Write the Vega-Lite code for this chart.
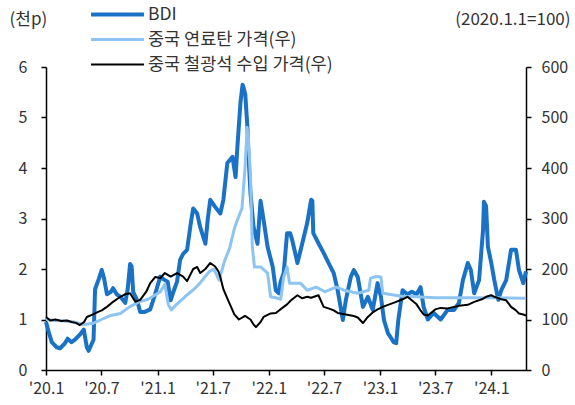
{
  "$schema": "https://vega.github.io/schema/vega-lite/v6.json",
  "width": 480,
  "height": 303,
  "autosize": {"type": "none"},
  "padding": {"left": 46, "top": 67, "right": 49, "bottom": 35},
  "background": "white",
  "data": {
    "format": {"parse": {"date": "date:'%Y-%m-%d'"}},
    "values": [
      {"date": "2020-01-01", "series": "BDI", "value": 0.95},
      {"date": "2020-01-10", "series": "BDI", "value": 0.75},
      {"date": "2020-01-20", "series": "BDI", "value": 0.55},
      {"date": "2020-02-05", "series": "BDI", "value": 0.45},
      {"date": "2020-02-16", "series": "BDI", "value": 0.43},
      {"date": "2020-03-02", "series": "BDI", "value": 0.52},
      {"date": "2020-03-12", "series": "BDI", "value": 0.62},
      {"date": "2020-03-25", "series": "BDI", "value": 0.55},
      {"date": "2020-04-05", "series": "BDI", "value": 0.6},
      {"date": "2020-04-21", "series": "BDI", "value": 0.7},
      {"date": "2020-05-04", "series": "BDI", "value": 0.8},
      {"date": "2020-05-14", "series": "BDI", "value": 0.45},
      {"date": "2020-05-20", "series": "BDI", "value": 0.38},
      {"date": "2020-06-05", "series": "BDI", "value": 0.6},
      {"date": "2020-06-10", "series": "BDI", "value": 1.6},
      {"date": "2020-06-22", "series": "BDI", "value": 1.8},
      {"date": "2020-07-02", "series": "BDI", "value": 1.98},
      {"date": "2020-07-10", "series": "BDI", "value": 1.8},
      {"date": "2020-07-19", "series": "BDI", "value": 1.5},
      {"date": "2020-08-01", "series": "BDI", "value": 1.55},
      {"date": "2020-08-08", "series": "BDI", "value": 1.62},
      {"date": "2020-08-20", "series": "BDI", "value": 1.5},
      {"date": "2020-09-01", "series": "BDI", "value": 1.45},
      {"date": "2020-09-17", "series": "BDI", "value": 1.33},
      {"date": "2020-09-25", "series": "BDI", "value": 1.6},
      {"date": "2020-10-03", "series": "BDI", "value": 2.1},
      {"date": "2020-10-08", "series": "BDI", "value": 2.05},
      {"date": "2020-10-13", "series": "BDI", "value": 1.55},
      {"date": "2020-10-26", "series": "BDI", "value": 1.38},
      {"date": "2020-11-05", "series": "BDI", "value": 1.15},
      {"date": "2020-11-20", "series": "BDI", "value": 1.15},
      {"date": "2020-12-08", "series": "BDI", "value": 1.2},
      {"date": "2020-12-24", "series": "BDI", "value": 1.5},
      {"date": "2021-01-10", "series": "BDI", "value": 1.85},
      {"date": "2021-01-20", "series": "BDI", "value": 1.8},
      {"date": "2021-02-03", "series": "BDI", "value": 1.75},
      {"date": "2021-02-13", "series": "BDI", "value": 1.38},
      {"date": "2021-02-25", "series": "BDI", "value": 1.6},
      {"date": "2021-03-06", "series": "BDI", "value": 1.75},
      {"date": "2021-03-16", "series": "BDI", "value": 2.18},
      {"date": "2021-03-26", "series": "BDI", "value": 2.3},
      {"date": "2021-04-08", "series": "BDI", "value": 2.38},
      {"date": "2021-04-20", "series": "BDI", "value": 2.9},
      {"date": "2021-04-28", "series": "BDI", "value": 3.2},
      {"date": "2021-05-11", "series": "BDI", "value": 3.1},
      {"date": "2021-05-21", "series": "BDI", "value": 2.83},
      {"date": "2021-06-07", "series": "BDI", "value": 2.5},
      {"date": "2021-06-15", "series": "BDI", "value": 3.0},
      {"date": "2021-06-23", "series": "BDI", "value": 3.37},
      {"date": "2021-07-09", "series": "BDI", "value": 3.23},
      {"date": "2021-07-26", "series": "BDI", "value": 3.1},
      {"date": "2021-08-05", "series": "BDI", "value": 3.37},
      {"date": "2021-08-18", "series": "BDI", "value": 4.1},
      {"date": "2021-09-04", "series": "BDI", "value": 4.22},
      {"date": "2021-09-14", "series": "BDI", "value": 3.82},
      {"date": "2021-09-20", "series": "BDI", "value": 4.42},
      {"date": "2021-09-30", "series": "BDI", "value": 5.29},
      {"date": "2021-10-07", "series": "BDI", "value": 5.65},
      {"date": "2021-10-10", "series": "BDI", "value": 5.6},
      {"date": "2021-10-16", "series": "BDI", "value": 5.45},
      {"date": "2021-10-23", "series": "BDI", "value": 4.8},
      {"date": "2021-10-26", "series": "BDI", "value": 4.3},
      {"date": "2021-11-02", "series": "BDI", "value": 3.5},
      {"date": "2021-11-12", "series": "BDI", "value": 2.83},
      {"date": "2021-11-25", "series": "BDI", "value": 2.5},
      {"date": "2021-12-05", "series": "BDI", "value": 3.35},
      {"date": "2021-12-15", "series": "BDI", "value": 2.97},
      {"date": "2021-12-28", "series": "BDI", "value": 2.44},
      {"date": "2022-01-14", "series": "BDI", "value": 2.04},
      {"date": "2022-01-24", "series": "BDI", "value": 1.58},
      {"date": "2022-02-03", "series": "BDI", "value": 1.52},
      {"date": "2022-02-09", "series": "BDI", "value": 1.75},
      {"date": "2022-02-19", "series": "BDI", "value": 1.92},
      {"date": "2022-03-02", "series": "BDI", "value": 2.71},
      {"date": "2022-03-12", "series": "BDI", "value": 2.71},
      {"date": "2022-03-19", "series": "BDI", "value": 2.57},
      {"date": "2022-04-05", "series": "BDI", "value": 2.12},
      {"date": "2022-04-21", "series": "BDI", "value": 2.51},
      {"date": "2022-05-07", "series": "BDI", "value": 2.91},
      {"date": "2022-05-20", "series": "BDI", "value": 3.37},
      {"date": "2022-05-24", "series": "BDI", "value": 3.35},
      {"date": "2022-05-27", "series": "BDI", "value": 2.71},
      {"date": "2022-06-13", "series": "BDI", "value": 2.51},
      {"date": "2022-06-30", "series": "BDI", "value": 2.32},
      {"date": "2022-07-16", "series": "BDI", "value": 2.12},
      {"date": "2022-08-02", "series": "BDI", "value": 1.92},
      {"date": "2022-08-15", "series": "BDI", "value": 1.58},
      {"date": "2022-09-01", "series": "BDI", "value": 0.99},
      {"date": "2022-09-11", "series": "BDI", "value": 1.39},
      {"date": "2022-09-27", "series": "BDI", "value": 1.84},
      {"date": "2022-10-07", "series": "BDI", "value": 1.98},
      {"date": "2022-10-20", "series": "BDI", "value": 1.84},
      {"date": "2022-11-06", "series": "BDI", "value": 1.25},
      {"date": "2022-11-22", "series": "BDI", "value": 1.45},
      {"date": "2022-12-08", "series": "BDI", "value": 1.19},
      {"date": "2022-12-24", "series": "BDI", "value": 1.72},
      {"date": "2023-01-04", "series": "BDI", "value": 1.45},
      {"date": "2023-01-14", "series": "BDI", "value": 0.99},
      {"date": "2023-01-27", "series": "BDI", "value": 0.73},
      {"date": "2023-02-15", "series": "BDI", "value": 0.55},
      {"date": "2023-02-23", "series": "BDI", "value": 0.53},
      {"date": "2023-03-02", "series": "BDI", "value": 0.99},
      {"date": "2023-03-16", "series": "BDI", "value": 1.58},
      {"date": "2023-04-01", "series": "BDI", "value": 1.5},
      {"date": "2023-04-15", "series": "BDI", "value": 1.55},
      {"date": "2023-05-01", "series": "BDI", "value": 1.5},
      {"date": "2023-05-14", "series": "BDI", "value": 1.64},
      {"date": "2023-05-24", "series": "BDI", "value": 1.25},
      {"date": "2023-06-07", "series": "BDI", "value": 1.0},
      {"date": "2023-06-26", "series": "BDI", "value": 1.13},
      {"date": "2023-07-19", "series": "BDI", "value": 1.0},
      {"date": "2023-08-11", "series": "BDI", "value": 1.19},
      {"date": "2023-09-01", "series": "BDI", "value": 1.19},
      {"date": "2023-09-17", "series": "BDI", "value": 1.33},
      {"date": "2023-09-30", "series": "BDI", "value": 1.78},
      {"date": "2023-10-16", "series": "BDI", "value": 2.12},
      {"date": "2023-10-26", "series": "BDI", "value": 1.98},
      {"date": "2023-11-06", "series": "BDI", "value": 1.52},
      {"date": "2023-11-22", "series": "BDI", "value": 1.78},
      {"date": "2023-12-05", "series": "BDI", "value": 2.77},
      {"date": "2023-12-08", "series": "BDI", "value": 3.33},
      {"date": "2023-12-15", "series": "BDI", "value": 3.25},
      {"date": "2023-12-21", "series": "BDI", "value": 2.44},
      {"date": "2024-01-01", "series": "BDI", "value": 2.12},
      {"date": "2024-01-11", "series": "BDI", "value": 1.78},
      {"date": "2024-01-24", "series": "BDI", "value": 1.39},
      {"date": "2024-02-03", "series": "BDI", "value": 1.58},
      {"date": "2024-02-19", "series": "BDI", "value": 1.78},
      {"date": "2024-03-06", "series": "BDI", "value": 2.38},
      {"date": "2024-03-22", "series": "BDI", "value": 2.38},
      {"date": "2024-04-01", "series": "BDI", "value": 1.98},
      {"date": "2024-04-15", "series": "BDI", "value": 1.72},
      {"date": "2024-04-24", "series": "BDI", "value": 1.95},

      {"date": "2020-01-01", "series": "중국 연료탄 가격(우)", "value": 100},
      {"date": "2020-02-01", "series": "중국 연료탄 가격(우)", "value": 98},
      {"date": "2020-03-01", "series": "중국 연료탄 가격(우)", "value": 97},
      {"date": "2020-04-01", "series": "중국 연료탄 가격(우)", "value": 95},
      {"date": "2020-05-01", "series": "중국 연료탄 가격(우)", "value": 90},
      {"date": "2020-06-01", "series": "중국 연료탄 가격(우)", "value": 92},
      {"date": "2020-07-01", "series": "중국 연료탄 가격(우)", "value": 100},
      {"date": "2020-08-01", "series": "중국 연료탄 가격(우)", "value": 108},
      {"date": "2020-09-01", "series": "중국 연료탄 가격(우)", "value": 112},
      {"date": "2020-10-01", "series": "중국 연료탄 가격(우)", "value": 125},
      {"date": "2020-11-01", "series": "중국 연료탄 가격(우)", "value": 135},
      {"date": "2020-12-01", "series": "중국 연료탄 가격(우)", "value": 140},
      {"date": "2021-01-10", "series": "중국 연료탄 가격(우)", "value": 155},
      {"date": "2021-01-25", "series": "중국 연료탄 가격(우)", "value": 170},
      {"date": "2021-02-05", "series": "중국 연료탄 가격(우)", "value": 130},
      {"date": "2021-02-15", "series": "중국 연료탄 가격(우)", "value": 119},
      {"date": "2021-03-01", "series": "중국 연료탄 가격(우)", "value": 128},
      {"date": "2021-04-01", "series": "중국 연료탄 가격(우)", "value": 145},
      {"date": "2021-05-01", "series": "중국 연료탄 가격(우)", "value": 160},
      {"date": "2021-05-20", "series": "중국 연료탄 가격(우)", "value": 172},
      {"date": "2021-06-20", "series": "중국 연료탄 가격(우)", "value": 195},
      {"date": "2021-07-05", "series": "중국 연료탄 가격(우)", "value": 200},
      {"date": "2021-07-22", "series": "중국 연료탄 가격(우)", "value": 178},
      {"date": "2021-08-10", "series": "중국 연료탄 가격(우)", "value": 218},
      {"date": "2021-08-25", "series": "중국 연료탄 가격(우)", "value": 240},
      {"date": "2021-09-10", "series": "중국 연료탄 가격(우)", "value": 280},
      {"date": "2021-09-20", "series": "중국 연료탄 가격(우)", "value": 297},
      {"date": "2021-10-05", "series": "중국 연료탄 가격(우)", "value": 320},
      {"date": "2021-10-15", "series": "중국 연료탄 가격(우)", "value": 400},
      {"date": "2021-10-22", "series": "중국 연료탄 가격(우)", "value": 480},
      {"date": "2021-10-26", "series": "중국 연료탄 가격(우)", "value": 460},
      {"date": "2021-11-02", "series": "중국 연료탄 가격(우)", "value": 382},
      {"date": "2021-11-08", "series": "중국 연료탄 가격(우)", "value": 244},
      {"date": "2021-11-15", "series": "중국 연료탄 가격(우)", "value": 204},
      {"date": "2021-12-05", "series": "중국 연료탄 가격(우)", "value": 204},
      {"date": "2021-12-28", "series": "중국 연료탄 가격(우)", "value": 192},
      {"date": "2022-01-07", "series": "중국 연료탄 가격(우)", "value": 145},
      {"date": "2022-01-24", "series": "중국 연료탄 가격(우)", "value": 143},
      {"date": "2022-02-09", "series": "중국 연료탄 가격(우)", "value": 140},
      {"date": "2022-02-19", "series": "중국 연료탄 가격(우)", "value": 184},
      {"date": "2022-03-02", "series": "중국 연료탄 가격(우)", "value": 204},
      {"date": "2022-03-10", "series": "중국 연료탄 가격(우)", "value": 172},
      {"date": "2022-04-15", "series": "중국 연료탄 가격(우)", "value": 172},
      {"date": "2022-05-07", "series": "중국 연료탄 가격(우)", "value": 158},
      {"date": "2022-06-05", "series": "중국 연료탄 가격(우)", "value": 164},
      {"date": "2022-07-05", "series": "중국 연료탄 가격(우)", "value": 155},
      {"date": "2022-08-10", "series": "중국 연료탄 가격(우)", "value": 164},
      {"date": "2022-09-05", "series": "중국 연료탄 가격(우)", "value": 158},
      {"date": "2022-10-20", "series": "중국 연료탄 가격(우)", "value": 152},
      {"date": "2022-11-25", "series": "중국 연료탄 가격(우)", "value": 158},
      {"date": "2022-12-01", "series": "중국 연료탄 가격(우)", "value": 182},
      {"date": "2022-12-20", "series": "중국 연료탄 가격(우)", "value": 185},
      {"date": "2023-01-04", "series": "중국 연료탄 가격(우)", "value": 184},
      {"date": "2023-01-10", "series": "중국 연료탄 가격(우)", "value": 152},
      {"date": "2023-02-20", "series": "중국 연료탄 가격(우)", "value": 148},
      {"date": "2023-03-15", "series": "중국 연료탄 가격(우)", "value": 146},
      {"date": "2023-05-01", "series": "중국 연료탄 가격(우)", "value": 145},
      {"date": "2023-07-01", "series": "중국 연료탄 가격(우)", "value": 143},
      {"date": "2023-10-01", "series": "중국 연료탄 가격(우)", "value": 143},
      {"date": "2024-01-01", "series": "중국 연료탄 가격(우)", "value": 143},
      {"date": "2024-04-24", "series": "중국 연료탄 가격(우)", "value": 142},

      {"date": "2020-01-01", "series": "중국 철광석 수입 가격(우)", "value": 105},
      {"date": "2020-01-15", "series": "중국 철광석 수입 가격(우)", "value": 98},
      {"date": "2020-02-01", "series": "중국 철광석 수입 가격(우)", "value": 100},
      {"date": "2020-02-20", "series": "중국 철광석 수입 가격(우)", "value": 97},
      {"date": "2020-03-10", "series": "중국 철광석 수입 가격(우)", "value": 98},
      {"date": "2020-03-25", "series": "중국 철광석 수입 가격(우)", "value": 95},
      {"date": "2020-04-10", "series": "중국 철광석 수입 가격(우)", "value": 93},
      {"date": "2020-04-21", "series": "중국 철광석 수입 가격(우)", "value": 89},
      {"date": "2020-05-05", "series": "중국 철광석 수입 가격(우)", "value": 95},
      {"date": "2020-05-14", "series": "중국 철광석 수입 가격(우)", "value": 105},
      {"date": "2020-06-03", "series": "중국 철광석 수입 가격(우)", "value": 110},
      {"date": "2020-06-20", "series": "중국 철광석 수입 가격(우)", "value": 115},
      {"date": "2020-07-02", "series": "중국 철광석 수입 가격(우)", "value": 118},
      {"date": "2020-07-19", "series": "중국 철광석 수입 가격(우)", "value": 125},
      {"date": "2020-08-08", "series": "중국 철광석 수입 가격(우)", "value": 135},
      {"date": "2020-09-01", "series": "중국 철광석 수입 가격(우)", "value": 145},
      {"date": "2020-09-17", "series": "중국 철광석 수입 가격(우)", "value": 150},
      {"date": "2020-10-03", "series": "중국 철광석 수입 가격(우)", "value": 152},
      {"date": "2020-10-20", "series": "중국 철광석 수입 가격(우)", "value": 135},
      {"date": "2020-11-05", "series": "중국 철광석 수입 가격(우)", "value": 139},
      {"date": "2020-11-25", "series": "중국 철광석 수입 가격(우)", "value": 155},
      {"date": "2020-12-08", "series": "중국 철광석 수입 가격(우)", "value": 172},
      {"date": "2020-12-24", "series": "중국 철광석 수입 가격(우)", "value": 184},
      {"date": "2021-01-10", "series": "중국 철광석 수입 가격(우)", "value": 182},
      {"date": "2021-01-25", "series": "중국 철광석 수입 가격(우)", "value": 192},
      {"date": "2021-02-13", "series": "중국 철광석 수입 가격(우)", "value": 185},
      {"date": "2021-03-06", "series": "중국 철광석 수입 가격(우)", "value": 192},
      {"date": "2021-03-26", "series": "중국 철광석 수입 가격(우)", "value": 185},
      {"date": "2021-04-08", "series": "중국 철광석 수입 가격(우)", "value": 176},
      {"date": "2021-04-28", "series": "중국 철광석 수입 가격(우)", "value": 200},
      {"date": "2021-05-11", "series": "중국 철광석 수입 가격(우)", "value": 204},
      {"date": "2021-05-21", "series": "중국 철광석 수입 가격(우)", "value": 192},
      {"date": "2021-06-07", "series": "중국 철광석 수입 가격(우)", "value": 200},
      {"date": "2021-06-23", "series": "중국 철광석 수입 가격(우)", "value": 212},
      {"date": "2021-07-09", "series": "중국 철광석 수입 가격(우)", "value": 205},
      {"date": "2021-07-20", "series": "중국 철광석 수입 가격(우)", "value": 195},
      {"date": "2021-07-26", "series": "중국 철광석 수입 가격(우)", "value": 184},
      {"date": "2021-08-05", "series": "중국 철광석 수입 가격(우)", "value": 160},
      {"date": "2021-08-20", "series": "중국 철광석 수입 가격(우)", "value": 139},
      {"date": "2021-09-10", "series": "중국 철광석 수입 가격(우)", "value": 110},
      {"date": "2021-09-25", "series": "중국 철광석 수입 가격(우)", "value": 100},
      {"date": "2021-10-15", "series": "중국 철광석 수입 가격(우)", "value": 107},
      {"date": "2021-11-02", "series": "중국 철광석 수입 가격(우)", "value": 100},
      {"date": "2021-11-12", "series": "중국 철광석 수입 가격(우)", "value": 90},
      {"date": "2021-11-20", "series": "중국 철광석 수입 가격(우)", "value": 85},
      {"date": "2021-12-05", "series": "중국 철광석 수입 가격(우)", "value": 95},
      {"date": "2021-12-15", "series": "중국 철광석 수입 가격(우)", "value": 105},
      {"date": "2022-01-07", "series": "중국 철광석 수입 가격(우)", "value": 112},
      {"date": "2022-01-24", "series": "중국 철광석 수입 가격(우)", "value": 113},
      {"date": "2022-02-19", "series": "중국 철광석 수입 가격(우)", "value": 125},
      {"date": "2022-03-02", "series": "중국 철광석 수입 가격(우)", "value": 130},
      {"date": "2022-03-15", "series": "중국 철광석 수입 가격(우)", "value": 138},
      {"date": "2022-04-05", "series": "중국 철광석 수입 가격(우)", "value": 148},
      {"date": "2022-04-21", "series": "중국 철광석 수입 가격(우)", "value": 142},
      {"date": "2022-05-07", "series": "중국 철광석 수입 가격(우)", "value": 145},
      {"date": "2022-05-20", "series": "중국 철광석 수입 가격(우)", "value": 143},
      {"date": "2022-06-13", "series": "중국 철광석 수입 가격(우)", "value": 148},
      {"date": "2022-06-30", "series": "중국 철광석 수입 가격(우)", "value": 125},
      {"date": "2022-07-16", "series": "중국 철광석 수입 가격(우)", "value": 122},
      {"date": "2022-08-02", "series": "중국 철광석 수입 가격(우)", "value": 118},
      {"date": "2022-08-15", "series": "중국 철광석 수입 가격(우)", "value": 113},
      {"date": "2022-09-11", "series": "중국 철광석 수입 가격(우)", "value": 110},
      {"date": "2022-10-07", "series": "중국 철광석 수입 가격(우)", "value": 107},
      {"date": "2022-10-20", "series": "중국 철광석 수입 가격(우)", "value": 104},
      {"date": "2022-11-06", "series": "중국 철광석 수입 가격(우)", "value": 93},
      {"date": "2022-11-22", "series": "중국 철광석 수입 가격(우)", "value": 105},
      {"date": "2022-12-08", "series": "중국 철광석 수입 가격(우)", "value": 114},
      {"date": "2022-12-24", "series": "중국 철광석 수입 가격(우)", "value": 120},
      {"date": "2023-01-14", "series": "중국 철광석 수입 가격(우)", "value": 126},
      {"date": "2023-02-01", "series": "중국 철광석 수입 가격(우)", "value": 130},
      {"date": "2023-02-23", "series": "중국 철광석 수입 가격(우)", "value": 135},
      {"date": "2023-03-16", "series": "중국 철광석 수입 가격(우)", "value": 140},
      {"date": "2023-04-01", "series": "중국 철광석 수입 가격(우)", "value": 145},
      {"date": "2023-04-11", "series": "중국 철광석 수입 가격(우)", "value": 140},
      {"date": "2023-05-01", "series": "중국 철광석 수입 가격(우)", "value": 130},
      {"date": "2023-05-14", "series": "중국 철광석 수입 가격(우)", "value": 118},
      {"date": "2023-05-24", "series": "중국 철광석 수입 가격(우)", "value": 110},
      {"date": "2023-06-07", "series": "중국 철광석 수입 가격(우)", "value": 108},
      {"date": "2023-07-01", "series": "중국 철광석 수입 가격(우)", "value": 120},
      {"date": "2023-07-19", "series": "중국 철광석 수입 가격(우)", "value": 123},
      {"date": "2023-08-11", "series": "중국 철광석 수입 가격(우)", "value": 122},
      {"date": "2023-09-01", "series": "중국 철광석 수입 가격(우)", "value": 125},
      {"date": "2023-09-17", "series": "중국 철광석 수입 가격(우)", "value": 127},
      {"date": "2023-10-16", "series": "중국 철광석 수입 가격(우)", "value": 129},
      {"date": "2023-11-06", "series": "중국 철광석 수입 가격(우)", "value": 135},
      {"date": "2023-12-01", "series": "중국 철광석 수입 가격(우)", "value": 140},
      {"date": "2023-12-15", "series": "중국 철광석 수입 가격(우)", "value": 145},
      {"date": "2024-01-01", "series": "중국 철광석 수입 가격(우)", "value": 148},
      {"date": "2024-01-11", "series": "중국 철광석 수입 가격(우)", "value": 145},
      {"date": "2024-02-03", "series": "중국 철광석 수입 가격(우)", "value": 140},
      {"date": "2024-02-19", "series": "중국 철광석 수입 가격(우)", "value": 138},
      {"date": "2024-03-06", "series": "중국 철광석 수입 가격(우)", "value": 125},
      {"date": "2024-03-22", "series": "중국 철광석 수입 가격(우)", "value": 118},
      {"date": "2024-04-01", "series": "중국 철광석 수입 가격(우)", "value": 112},
      {"date": "2024-04-15", "series": "중국 철광석 수입 가격(우)", "value": 110},
      {"date": "2024-04-24", "series": "중국 철광석 수입 가격(우)", "value": 108}
    ]
  },
  "encoding": {
    "x": {
      "field": "date",
      "type": "temporal",
      "scale": {"domain": [{"year": 2020, "month": 1, "date": 1}, {"year": 2024, "month": 4, "date": 24}]},
      "axis": {
        "title": null,
        "format": "'%y.%-m",
        "labelPadding": 5,
        "labelFlush": false,
        "values": [
          {"year": 2020, "month": 1, "date": 1},
          {"year": 2020, "month": 7, "date": 1},
          {"year": 2021, "month": 1, "date": 1},
          {"year": 2021, "month": 7, "date": 1},
          {"year": 2022, "month": 1, "date": 1},
          {"year": 2022, "month": 7, "date": 1},
          {"year": 2023, "month": 1, "date": 1},
          {"year": 2023, "month": 7, "date": 1},
          {"year": 2024, "month": 1, "date": 1}
        ]
      }
    },
    "color": {
      "field": "series",
      "type": "nominal",
      "scale": {
        "domain": ["BDI", "중국 연료탄 가격(우)", "중국 철광석 수입 가격(우)"],
        "range": ["#1a72c6", "#8ec4f2", "#000000"]
      },
      "legend": {
        "title": null,
        "orient": "none",
        "legendX": 43,
        "legendY": -64,
        "direction": "vertical",
        "symbolType": "stroke",
        "symbolSize": 2800,
        "clipHeight": 23,
        "labelOffset": 2,
        "labelLimit": 0,
        "rowPadding": 2,
        "labelFontSize": 17.5,
        "labelColor": "#333333"
      }
    },
    "strokeWidth": {
      "field": "series",
      "type": "nominal",
      "scale": {
        "domain": ["BDI", "중국 연료탄 가격(우)", "중국 철광석 수입 가격(우)"],
        "range": [4, 2, 1.8]
      },
      "legend": {
        "title": null,
        "orient": "none",
        "legendX": 43,
        "legendY": -64,
        "direction": "vertical",
        "symbolType": "stroke",
        "symbolSize": 2800,
        "clipHeight": 23,
        "labelOffset": 2,
        "labelLimit": 0,
        "rowPadding": 2,
        "labelFontSize": 17.5,
        "labelColor": "#333333"
      }
    }
  },
  "layer": [
    {
      "transform": [{"filter": "datum.series == 'BDI'"}],
      "mark": {"type": "line", "strokeJoin": "round"},
      "encoding": {
        "y": {
          "field": "value",
          "type": "quantitative",
          "scale": {"domain": [0, 6]},
          "axis": {
            "orient": "left",
            "values": [0, 1, 2, 3, 4, 5, 6],
            "labelPadding": 14,
            "title": "(천p)",
            "titleAngle": 0,
            "titleAlign": "left",
            "titleBaseline": "middle",
            "titleX": -37,
            "titleY": -48
          }
        }
      }
    },
    {
      "transform": [{"filter": "datum.series == '중국 연료탄 가격(우)'"}],
      "mark": {"type": "line", "strokeJoin": "round"},
      "encoding": {
        "y": {
          "field": "value",
          "type": "quantitative",
          "scale": {"domain": [0, 600]},
          "axis": {
            "orient": "right",
            "values": [0, 100, 200, 300, 400, 500, 600],
            "labelPadding": 10,
            "title": "(2020.1.1=100)",
            "titleAngle": 0,
            "titleAlign": "right",
            "titleBaseline": "middle",
            "titleX": 44,
            "titleY": -48
          }
        }
      }
    },
    {
      "transform": [{"filter": "datum.series == '중국 철광석 수입 가격(우)'"}],
      "mark": {"type": "line", "strokeJoin": "round"},
      "encoding": {
        "y": {
          "field": "value",
          "type": "quantitative",
          "scale": {"domain": [0, 600]},
          "axis": null
        }
      }
    }
  ],
  "resolve": {"scale": {"y": "independent"}},
  "config": {
    "font": "Noto Sans CJK KR",
    "view": {"stroke": null},
    "axis": {
      "grid": false,
      "domainColor": "#000000",
      "domainWidth": 1.5,
      "tickColor": "#000000",
      "tickWidth": 1.5,
      "tickSize": 5,
      "labelColor": "#333333",
      "labelFontSize": 16,
      "titleColor": "#333333",
      "titleFontSize": 17,
      "titleFontWeight": "normal"
    }
  }
}
